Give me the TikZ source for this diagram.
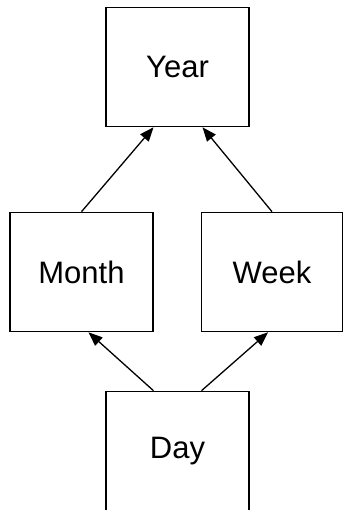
\documentclass[tikz,border=0pt]{standalone}
\usepackage{fontspec}
\setmainfont{Liberation Sans}
\usetikzlibrary{arrows.meta,calc}
\begin{document}
\begin{tikzpicture}[x=1pt,y=-1pt,
  box/.style={draw, line width=1.6pt, minimum width=143pt, minimum height=119pt, inner sep=0pt, font=\fontsize{31}{31}\selectfont},
  conn/.style={line width=1.3pt, -{Triangle[length=14pt,width=11pt]}}]
\useasboundingbox (0,0) rectangle (345,510);
\clip (0,0) rectangle (345,510);
\node[box] (year) at (177.5,67) {Year};
\node[box] (month) at (81.5,272) {Month};
\node[box, minimum width=141pt] (week) at (272,272) {Week};
\node[box] (day) at (177.5,451) {Day};
\draw[conn] (month.north) -- ($(year.south)+(-24,0)$);
\draw[conn] (week.north) -- ($(year.south)+(25,0)$);
\draw[conn] ($(day.north)+(-24,0)$) -- ($(month.south)+(7,0)$);
\draw[conn] ($(day.north)+(24,0)$) -- ($(week.south)+(-4,0)$);
\end{tikzpicture}
\end{document}
